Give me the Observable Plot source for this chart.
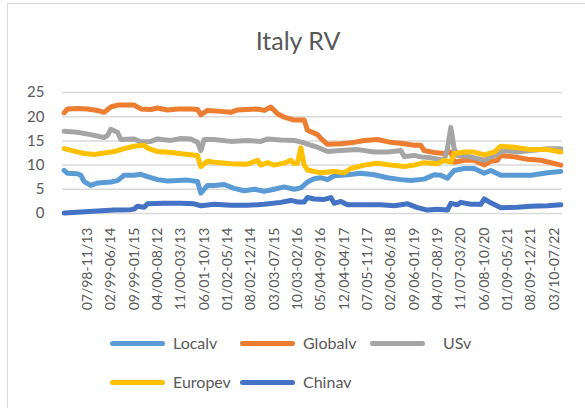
<!DOCTYPE html>
<html>
<head>
<meta charset="utf-8">
<script src="https://cdn.jsdelivr.net/npm/d3@7"></script>
<script src="https://cdn.jsdelivr.net/npm/@observablehq/plot@0.6"></script>
<style>
  html, body { margin: 0; padding: 0; background: #fff; width: 585px; height: 408px; overflow: hidden; }
  #chart { position: absolute; left: 0; top: 0; }
  #frame { position: absolute; left: 7px; top: 3px; width: 640px; height: 470px; border: 1.5px solid #D9D9D9; box-sizing: border-box; z-index: 5; pointer-events: none; }
  #title { position: absolute; left: 0; width: 596px; top: 25px; line-height: 30px; text-align: center; font-family: Lato, sans-serif; font-size: 25px; color: #595959; }
  .sw { position: absolute; width: 55px; height: 5px; border-radius: 3px; }
  .lt { position: absolute; font-family: Lato, sans-serif; font-size: 16px; line-height: 20px; color: #595959; }
</style>
</head>
<body>
<div id="chart"></div>
<div id="title">Italy RV</div>
<div id="legend"></div>
<div id="frame"></div>
<script>
// Tick labels (every 7th category)
const labels = ["07/98-11/13","02/99-06/14","09/99-01/15","04/00-08/12","11/00-03/13","06/01-10/13",
  "01/02-05/14","08/02-12/14","03/03-07/15","10/03-02/16","05/04-09/16","12/04-04/17","07/05-11/17",
  "02/06-06/18","09/06-01/19","04/07-08/19","11/07-03/20","06/08-10/20","01/09-05/21","08/09-12/21","03/10-07/22"];
const nCategories = 150;

// Series: [category index, value]
const localv = [[0,8.9],[1,8.3],[4,8.2],[5,7.9],[6,6.6],[8,5.8],[10,6.3],[14,6.5],[16,6.8],[18,7.9],[21,7.9],[23,8.1],
  [25,7.6],[28,7.0],[31,6.7],[34,6.8],[37,6.9],[40,6.6],[41,4.2],[43,5.8],[45,5.8],[48,6.0],[51,5.2],[54,4.7],[57,5.0],
  [60,4.6],[63,5.0],[66,5.5],[69,5.0],[71,5.3],[73,6.5],[75,7.2],[77,7.4],[79,7.0],[81,7.8],[85,8.0],[89,8.3],[93,8.0],
  [97,7.4],[101,7.0],[104,6.8],[108,7.1],[111,8.0],[113,7.9],[115,7.3],[117,8.9],[120,9.3],[123,9.3],[126,8.3],[128,8.9],
  [131,7.9],[136,7.9],[140,7.9],[145,8.4],[149,8.7]];
const globalv = [[0,20.8],[1,21.6],[4,21.7],[7,21.6],[10,21.3],[12,20.9],[14,22.0],[16,22.4],[21,22.4],[23,21.6],[26,21.5],
  [28,21.8],[31,21.4],[34,21.6],[38,21.6],[40,21.5],[41,20.4],[43,21.3],[47,21.1],[50,20.9],[52,21.4],[58,21.6],[60,21.3],
  [62,22.0],[64,20.6],[66,19.9],[67,19.7],[69,19.3],[72,19.3],[73,17.2],[75,16.6],[76,16.3],[77,15.5],[79,14.3],[83,14.4],
  [86,14.6],[90,15.1],[94,15.3],[98,14.7],[102,14.4],[105,14.1],[107,14.1],[108,13.0],[111,12.6],[114,12.4],[116,12.7],
  [117,10.6],[120,11.0],[123,11.0],[126,10.0],[128,10.8],[130,11.0],[131,12.0],[135,11.7],[139,11.2],[143,11.0],[149,10.0]];
const usv = [[0,17.0],[4,16.8],[8,16.3],[12,15.7],[13,16.1],[14,17.4],[16,16.8],[17,15.3],[21,15.4],[23,14.8],[26,14.9],
  [28,15.4],[32,15.1],[35,15.5],[38,15.4],[40,14.7],[41,13.0],[42,15.3],[45,15.3],[50,14.9],[55,15.1],[59,14.9],[61,15.4],
  [65,15.2],[69,15.1],[72,14.6],[74,14.1],[76,13.7],[79,12.8],[83,13.0],[88,13.2],[93,12.7],[97,12.7],[101,13.0],[102,11.8],
  [105,12.0],[107,11.7],[110,11.5],[114,11.0],[115,13.4],[116,17.8],[117,13.4],[118,12.0],[122,11.7],[126,11.0],[129,12.0],
  [132,13.0],[136,12.7],[140,13.0],[145,13.4],[149,13.4]];
const europev = [[0,13.4],[3,12.9],[6,12.4],[9,12.2],[12,12.5],[15,12.8],[18,13.4],[21,13.9],[24,14.1],[25,13.5],[28,12.8],
  [32,12.6],[37,12.2],[40,12.0],[41,9.7],[43,10.8],[45,10.6],[50,10.3],[55,10.2],[58,11.0],[59,10.0],[61,10.5],[63,10.0],
  [66,10.4],[68,11.0],[69,10.3],[70,10.4],[71,13.6],[72,10.0],[73,9.0],[77,8.4],[81,8.7],[84,8.4],[86,9.3],[90,10.0],
  [94,10.4],[98,10.0],[102,9.7],[105,10.0],[108,10.5],[112,10.3],[114,11.0],[116,10.6],[117,12.4],[120,12.7],[123,12.7],
  [126,12.1],[129,12.7],[131,13.9],[135,13.7],[140,13.2],[145,13.2],[149,12.7]];
const chinav = [[0,0.1],[5,0.3],[10,0.5],[15,0.7],[20,0.8],[21,0.9],[22,1.5],[24,1.3],[25,2.0],[30,2.1],[35,2.1],[39,2.0],
  [41,1.6],[45,1.9],[50,1.7],[55,1.7],[60,1.9],[65,2.3],[68,2.7],[70,2.4],[72,2.4],[73,3.3],[75,3.0],[78,2.9],[80,3.3],
  [81,2.1],[83,2.5],[85,1.8],[90,1.8],[95,1.8],[99,1.6],[103,2.0],[106,1.2],[109,0.7],[112,0.9],[115,0.7],[116,2.1],
  [118,1.8],[119,2.3],[122,1.9],[125,1.9],[126,3.0],[128,2.2],[131,1.2],[136,1.3],[140,1.5],[145,1.6],[149,1.8]];

const seriesNames = ["Localv","Globalv","USv","Europev","Chinav"];
const seriesColors = ["#5B9BD5","#ED7D31","#A5A5A5","#FFC000","#4472C4"];
const seriesValues = [localv, globalv, usv, europev, chinav];
const yTicks = [0,5,10,15,20,25];

const data = seriesNames.flatMap((name, s) => seriesValues[s].map(([i, v]) => ({name, x: i + 0.5, v})));
const tickPos = labels.map((d, k) => 7 + 7 * k + 0.5);

const chart = Plot.plot({
  width: 585, height: 320,
  marginLeft: 62, marginRight: 23, marginTop: 92, marginBottom: 107,
  style: {fontFamily: "Lato, sans-serif", fontSize: "14px", color: "#595959", background: "transparent"},
  x: {domain: [0, nCategories], axis: null},
  y: {domain: [0, 25], axis: null},
  color: {domain: seriesNames, range: seriesColors},
  marks: [
    Plot.gridY(yTicks, {stroke: "#D9D9D9", strokeOpacity: 1, strokeWidth: 1.5}),
    Plot.axisY(yTicks, {tickSize: 0, tickPadding: 18, fontSize: 15, fill: "#595959", label: null}),
    Plot.axisX(tickPos, {tickSize: 0, tickRotate: -90, tickPadding: 14, fontSize: 14, fill: "#595959", label: null,
      tickFormat: d => labels[Math.round((d - 7.5) / 7)]}),
    Plot.line(data, {x: "x", y: "v", z: "name", stroke: "name", strokeWidth: 5,
      strokeLinecap: "round", strokeLinejoin: "round"})
  ]
});
document.getElementById("chart").appendChild(chart);

// Legend
const legendPos = [[110, 343], [240, 343], [370, 343], [110, 382], [240, 382]];
const textX = [173, 303, 443, 173, 303];
const lg = document.getElementById("legend");
seriesNames.forEach((name, s) => {
  const [x, y] = legendPos[s];
  const sw = document.createElement("div");
  sw.className = "sw";
  sw.style.left = x + "px"; sw.style.top = (y - 2.5) + "px"; sw.style.background = seriesColors[s];
  lg.appendChild(sw);
  const t = document.createElement("div");
  t.className = "lt";
  t.style.left = textX[s] + "px"; t.style.top = (y - 10) + "px";
  t.textContent = name;
  lg.appendChild(t);
});
</script>
</body>
</html>
